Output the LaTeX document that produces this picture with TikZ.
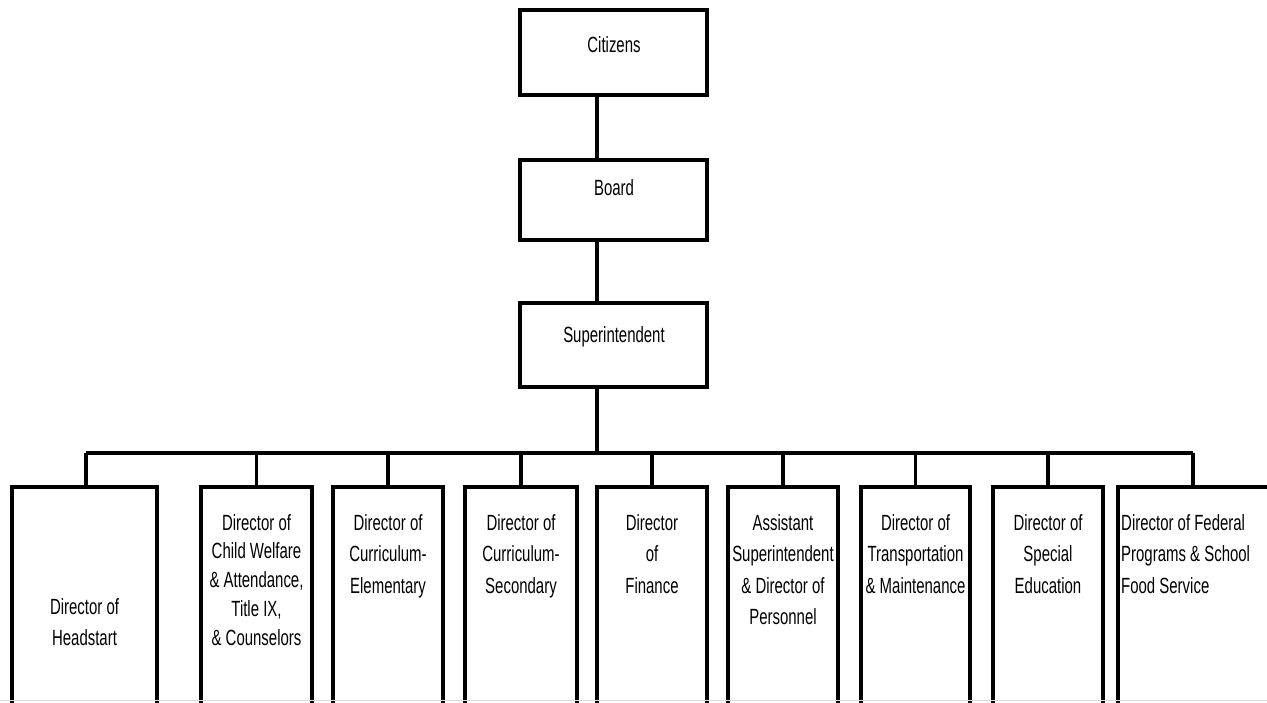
\documentclass[tikz,border=0pt]{standalone}
\usepackage{fontspec}
\newfontfamily\chartfont{Liberation Sans}[FakeStretch=0.68]
\usetikzlibrary{positioning}
\tikzset{
  base/.style={font=\chartfont\fontsize{22}{31.5}\selectfont, text=black},
  box/.style={draw=black, line width=3.4pt, fill=white, inner sep=0pt},
  topbox/.style={box, minimum width=187pt},
  unitbox/.style={box, minimum height=260pt},
  label/.style={base, align=center, inner sep=0pt, anchor=north},
  wire/.style={draw=black, line width=3.2pt},
}
\begin{document}
\begin{tikzpicture}[x=1pt,y=-1pt]
  \clip (0,0) rectangle (1267,702);
  \fill[white] (0,0) rectangle (1267,702);

  % top of the chart
  \node[topbox,minimum height=85pt] (cit) at (613.5,52.5) {};
  \node[topbox,minimum height=80pt] (brd) at (613.5,200) {};
  \node[topbox,minimum height=84pt] (sup) at (613.5,345) {};
  \node[base] (citT) at (614,45) {Citizens};
  \node[base] (brdT) at (614,188) {Board};
  \node[base] (supT) at (614,337) {Superintendent};

  \coordinate (trunk) at (597,0);
  \coordinate (busL) at (86,453);
  \coordinate (busR) at (1193,453);
  \draw[wire] (cit.south -| trunk) -- (brd.north -| trunk);
  \draw[wire] (brd.south -| trunk) -- (sup.north -| trunk);
  \draw[wire] (sup.south -| trunk) -- (trunk |- busL);
  \draw[wire] (busL) -- (busR);

  % directors
  \node[unitbox,minimum width=145pt] (hs) at (84.5,617) {};
  \node[unitbox,minimum width=111pt] (cw) at (256.5,617) {};
  \node[unitbox,minimum width=110pt] (ce) at (388,617) {};
  \node[unitbox,minimum width=112pt] (cs) at (521,617) {};
  \node[unitbox,minimum width=110pt] (fin) at (652,617) {};
  \node[unitbox,minimum width=110pt] (per) at (783,617) {};
  \node[unitbox,minimum width=109pt] (tra) at (915.5,617) {};
  \node[unitbox,minimum width=110pt] (spe) at (1048,617) {};
  \node[unitbox,minimum width=162pt] (fed) at (1199,617) {};

  \draw[wire] (busL) -- ([xshift=1.5pt]hs.north);
  \foreach \u in {cw,ce,cs,fin,per,tra,spe}
    \draw[wire] (\u.north |- busL) -- (\u.north);
  \draw[wire] (busR) -- ([xshift=-6pt]fed.north);

  \node[label] (hsT) at (84.5,598) {Director of\\Headstart};
  \node[label,font=\chartfont\fontsize{22}{28.8}\selectfont] (cwT) at (256.5,514) {Director of\\Child Welfare\\\& Attendance,\\Title IX,\\\& Counselors};
  \node[label] (ceT) at (388,514) {Director of\\Curriculum-\\Elementary};
  \node[label] (csT) at (521,514) {Director of\\Curriculum-\\Secondary};
  \node[label] (finT) at (652,514) {Director\\of\\Finance};
  \node[label] (perT) at (783,514) {Assistant\\Superintendent\\\& Director of\\Personnel};
  \node[label] (traT) at (915.5,514) {Director of\\Transportation\\\& Maintenance};
  \node[label] (speT) at (1048,514) {Director of\\Special\\Education};
  \node[label,align=left,anchor=north west] (fedT) at (1121,514) {Director of Federal\\Programs \& School\\Food Service};

  \draw[black!15, line width=1pt] (0,700.5) -- (1267,700.5);
\end{tikzpicture}
\end{document}
